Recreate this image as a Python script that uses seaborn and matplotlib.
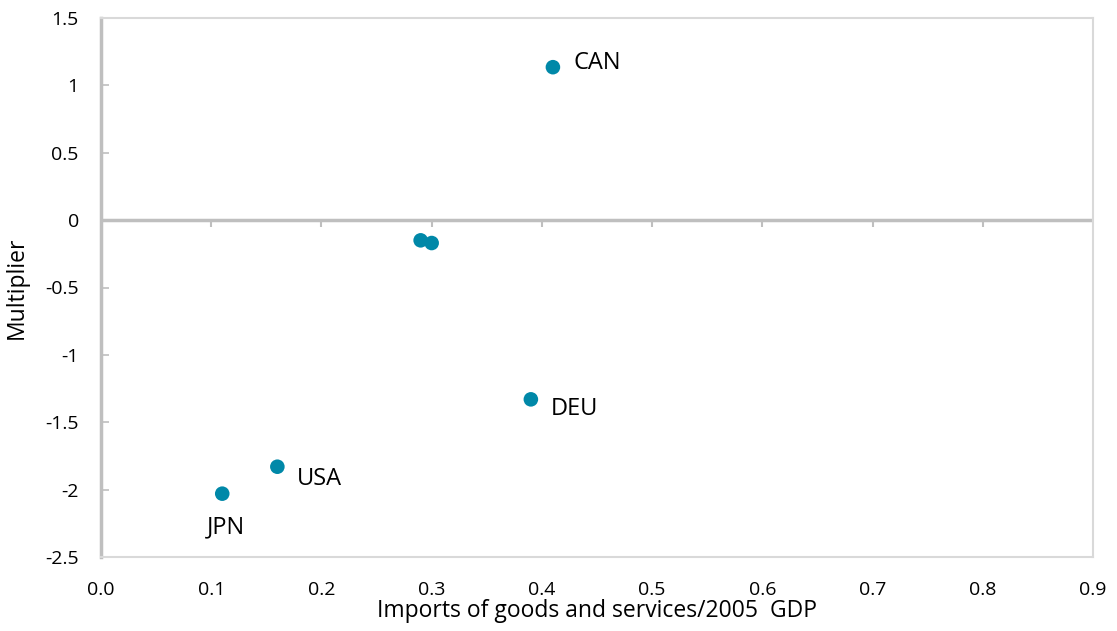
import matplotlib
matplotlib.use("Agg")
import matplotlib.pyplot as plt
import matplotlib.transforms as mtransforms
import seaborn as sns
import pandas as pd

# Data
countries = ["CAN", "", "", "DEU", "USA", "JPN"]
imports_gdp = [0.41, 0.29, 0.30, 0.39, 0.16, 0.11]
multiplier = [1.135, -0.15, -0.17, -1.33, -1.83, -2.03]
x_ticks = [0.0, 0.1, 0.2, 0.3, 0.4, 0.5, 0.6, 0.7, 0.8, 0.9]
y_ticks = [-2.5, -2, -1.5, -1, -0.5, 0, 0.5, 1, 1.5]
y_tick_labels = ["-2.5", "-2", "-1.5", "-1", "-0.5", "0", "0.5", "1", "1.5"]

df = pd.DataFrame({"country": countries, "x": imports_gdp, "y": multiplier})

sns.set_style("white")
plt.rcParams["font.family"] = ["Open Sans", "DejaVu Sans"]
plt.rcParams["text.color"] = "black"
plt.rcParams["axes.labelcolor"] = "black"

fig = plt.figure(figsize=(11.17, 6.31), dpi=100)
ax = fig.add_axes([101 / 1117, 1 - 557 / 631, (1093 - 101) / 1117, (557 - 18) / 631])

point_color = "#0088A8"
sns.scatterplot(data=df, x="x", y="y", ax=ax, color=point_color, s=110,
                edgecolor="none", zorder=3)

ax.set_xlim(0, 0.9)
ax.set_ylim(-2.5, 1.5)

# zero line with tick marks
ax.axhline(0, color="#BFBFBF", lw=2.5, zorder=1)
trans = mtransforms.blended_transform_factory(ax.transData, ax.transAxes)
y0 = ax.transLimits.transform((0, 0))[1]
for xt in x_ticks[1:-1]:
    ax.plot([xt, xt], [y0, y0 - 0.012], transform=trans, color="#BFBFBF",
            lw=1.5, zorder=1, solid_capstyle="butt")

ax.set_xticks(x_ticks)
ax.set_xticklabels([f"{v:.1f}" for v in x_ticks])
ax.set_yticks(y_ticks)
ax.set_yticklabels(y_tick_labels)
ax.tick_params(axis="x", length=0, pad=17, labelsize=14, labelcolor="black")
ax.tick_params(axis="y", direction="in", length=6, width=1.2, color="#BFBFBF",
               pad=16, labelsize=14, left=True, labelcolor="black")

for side in ["top", "right", "bottom"]:
    ax.spines[side].set_color("#D9D9D9")
    ax.spines[side].set_linewidth(1.5)
ax.spines["left"].set_color("#BFBFBF")
ax.spines["left"].set_linewidth(2.5)

ax.set_xlabel("Imports of goods and services/2005  GDP", fontsize=16.5, labelpad=0)
ax.set_ylabel("Multiplier", fontsize=16.5, labelpad=12)

# Country labels
offsets = {"CAN": (15, 3, "left", "center"),
           "DEU": (14, -7, "left", "center"),
           "USA": (14, -9, "left", "center"),
           "JPN": (3, -24, "center", "center")}
for c, xv, yv in zip(countries, imports_gdp, multiplier):
    if c in offsets:
        dx, dy, ha, va = offsets[c]
        ax.annotate(c, (xv, yv), xytext=(dx, dy), textcoords="offset points",
                    ha=ha, va=va, fontsize=17, color="black")

fig.savefig("out.png", dpi=100)
